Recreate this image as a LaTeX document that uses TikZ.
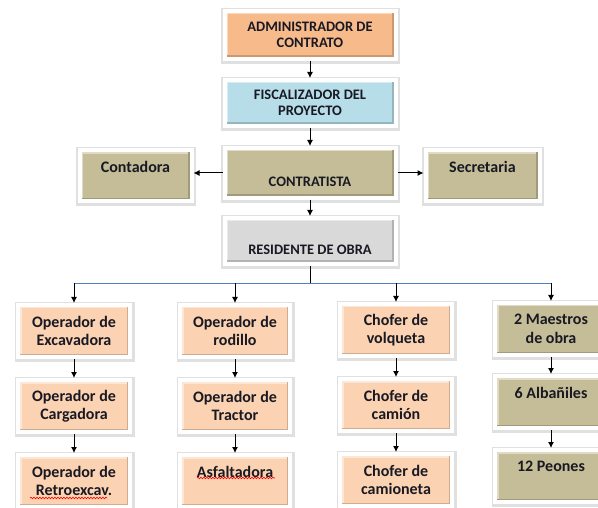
\documentclass[tikz,border=0pt]{standalone}
\usepackage{fontspec}
\setmainfont{Carlito}
\usetikzlibrary{arrows.meta,positioning,shadows,decorations.pathmorphing}
\definecolor{AdminOrange}{RGB}{247,186,138}
\definecolor{FiscBlue}{RGB}{183,222,232}
\definecolor{OliveKhaki}{RGB}{196,189,151}
\definecolor{ResGray}{RGB}{217,217,217}
\definecolor{Peach}{RGB}{251,210,178}
\definecolor{BusBlue}{RGB}{79,129,189}
\definecolor{InkDark}{RGB}{25,25,35}
\tikzset{
  orgbox/.style = {draw=white, line width=4pt, fill=#1, align=center,
                   text=InkDark, inner sep=2pt,
                   preaction={draw=black, draw opacity=0.12, line width=8pt,
                              transform canvas={xshift=0.6pt, yshift=-0.8pt}},
                   drop shadow={opacity=0.3, shadow xshift=1pt, shadow yshift=-1.5pt},
                   path picture={
                     \draw[line width=7pt, #1!55!white]
                       (path picture bounding box.south west) |- (path picture bounding box.north east);
                     \draw[line width=7pt, #1!82!black]
                       (path picture bounding box.south west) -| (path picture bounding box.north east);}},
  capbox/.style = {orgbox=#1, font=\bfseries\fontsize{14.5}{15.5}\selectfont,
                   minimum width=171pt, minimum height=46pt},
  rowbox/.style = {orgbox=#1, font=\bfseries\fontsize{16}{18.5}\selectfont,
                   minimum width=112pt, minimum height=52pt},
  arr/.style    = {-{Latex[length=6pt,width=6pt]}, line width=1pt, black},
  wavy/.style   = {red, line width=0.6pt, decorate,
                   decoration={snake, amplitude=0.8pt, segment length=3pt}}
}
\begin{document}
\begin{tikzpicture}[x=1pt, y=-1pt]
\useasboundingbox (0,0) rectangle (598,508);
\clip (0,0) rectangle (598,508);

% mando superior
\node[capbox=AdminOrange, minimum height=48pt] (admin) at (310,35) {ADMINISTRADOR DE\\CONTRATO};
\node[capbox=FiscBlue, below=17pt of admin] (fisc) {FISCALIZADOR DEL\\PROYECTO};
\node[capbox=OliveKhaki, minimum height=50pt, below=18pt of fisc] (contr) {\mbox{}\\[12pt]CONTRATISTA};
\node[capbox=ResGray, below=16pt of contr] (res) {\mbox{}\\[12pt]RESIDENTE DE OBRA};

\node[rowbox=OliveKhaki, minimum height=51pt, left=29pt of contr, yshift=-3pt] (cont) {Contadora\\\mbox{}};
\node[rowbox=OliveKhaki, minimum width=114pt, minimum height=51pt, right=26pt of contr, yshift=-3pt] (secr) {Secretaria\\\mbox{}};

% personal de campo
\node[rowbox=Peach] (exc) at (74,331) {Operador de\\Excavadora};
\node[rowbox=Peach, below=19pt of exc] (carg) {Operador de\\Cargadora};
\node[rowbox=Peach, below=19pt of carg] (retro) {Operador de\\Retroexcav.};

\node[rowbox=Peach, minimum width=110pt] (rod) at (235,331) {Operador de\\rodillo};
\node[rowbox=Peach, minimum width=110pt, below=19pt of rod] (trac) {Operador de\\Tractor};
\node[rowbox=Peach, minimum width=110pt, below=19pt of trac] (asf) {Asfaltadora\\\mbox{}};

\node[rowbox=Peach] (volq) at (396,330) {Chofer de\\volqueta};
\node[rowbox=Peach, below=19pt of volq] (cam) {Chofer de\\camión};
\node[rowbox=Peach, below=19pt of cam] (camta) {Chofer de\\camioneta};

\node[rowbox=OliveKhaki] (maes) at (551,329) {2 Maestros\\de obra};
\node[rowbox=OliveKhaki, below=17pt of maes] (alb) {6 Albañiles\\\mbox{}};
\node[rowbox=OliveKhaki, below=18pt of alb] (peon) {12 Peones\\\mbox{}};

% subrayado del corrector
\draw[wavy] ([xshift=-44pt, yshift=-17pt]retro.center) -- ([xshift=33pt, yshift=-17pt]retro.center);
\draw[wavy] ([xshift=-38pt, yshift=3pt]asf.center) -- ([xshift=40pt, yshift=3pt]asf.center);

% conectores
\draw[arr] (admin) -- (fisc);
\draw[arr] (fisc) -- (contr);
\draw[arr] (contr) -- (res);
\draw[arr] (contr.west) -- (cont.east |- contr.west);
\draw[arr] (contr.east) -- (secr.west |- contr.east);

\coordinate (bus) at (311,283);
\draw[line width=1pt] (res.south) -- (res.south |- bus);
\draw[BusBlue, line width=0.8pt] (exc.north |- bus) -- (maes.north |- bus);
\draw[arr] (exc.north |- bus) -- (exc.north);
\draw[arr] (rod.north |- bus) -- (rod.north);
\draw[arr] (volq.north |- bus) -- (volq.north);
\draw[arr] (maes.north |- bus) -- (maes.north);

\draw[arr] (exc) -- (carg);
\draw[arr] (carg) -- (retro);
\draw[arr] (rod) -- (trac);
\draw[arr] (trac) -- (asf);
\draw[arr] (volq) -- (cam);
\draw[arr] (cam) -- (camta);
\draw[arr] (maes) -- (alb);
\draw[arr] (alb) -- (peon);
\end{tikzpicture}
\end{document}
